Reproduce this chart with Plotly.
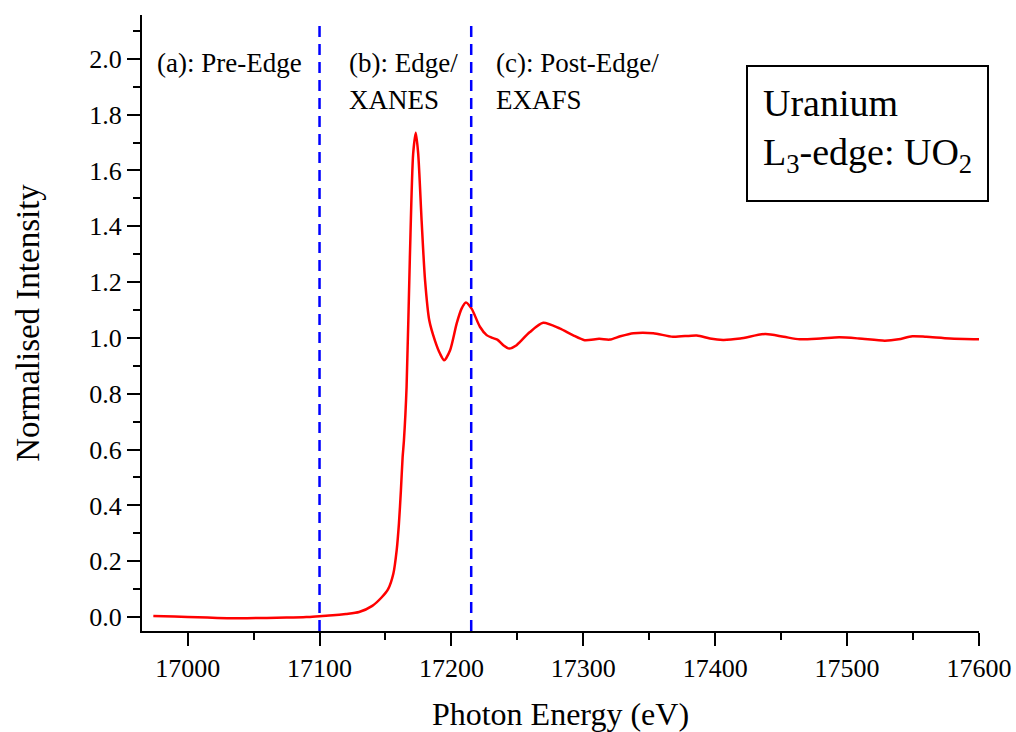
import plotly.graph_objects as go

# Uranium L3-edge XANES/EXAFS spectrum of UO2 (normalised)
energy_ev = [16974, 16990, 17000, 17015, 17030, 17045, 17060, 17075, 17090, 17100,
             17110, 17120, 17130, 17140, 17147, 17152, 17156, 17158.5, 17160.2, 17161.7,
             17163, 17164, 17166, 17168.5, 17171, 17173, 17174.8, 17177.4, 17180, 17183.2,
             17187.5, 17191.3, 17194.5, 17199, 17204, 17207.7, 17211, 17215.3, 17221.6, 17226.7,
             17230.5, 17234.8, 17239.3, 17243.8, 17249.4, 17252, 17259.5, 17269.6, 17282, 17292,
             17301, 17312, 17320, 17328, 17338, 17353, 17368, 17386, 17396, 17406,
             17419, 17438, 17452, 17464, 17480, 17494, 17509, 17528.6, 17539, 17549.4,
             17560, 17578, 17600]
intensity = [0.004, 0.002, 0.0, -0.002, -0.004, -0.004, -0.003, -0.002, 0.0, 0.003,
             0.006, 0.011, 0.018, 0.04, 0.07, 0.10, 0.156, 0.24, 0.335, 0.454,
             0.573, 0.633, 0.824, 1.29, 1.66, 1.735, 1.66, 1.42, 1.207, 1.063,
             0.99, 0.944, 0.92, 0.956, 1.052, 1.105, 1.127, 1.105, 1.04, 1.01,
             1.001, 0.994, 0.974, 0.962, 0.974, 0.986, 1.021, 1.054, 1.034, 1.01,
             0.992, 0.997, 0.994, 1.006, 1.017, 1.017, 1.004, 1.009, 0.998, 0.993,
             0.998, 1.014, 1.004, 0.995, 0.998, 1.002, 0.998, 0.99, 0.995, 1.006,
             1.004, 0.998, 0.995]

# Region boundaries (eV) and region labels
region_bounds = [17100, 17215]
region_labels = [
    (16975, "(a): Pre-Edge", None),
    (17121, "(b): Edge/", "XANES"),
    (17232, "(c): Post-Edge/", "EXAFS"),
]

FONT = "Liberation Serif"

fig = go.Figure()
fig.add_trace(go.Scatter(
    x=energy_ev, y=intensity, mode="lines",
    line=dict(color="#ff0000", width=2.5, shape="spline", smoothing=0.7),
    showlegend=False, hoverinfo="skip",
))

for xb in region_bounds:
    fig.add_shape(type="line", xref="x", yref="y", x0=xb, x1=xb, y0=-0.05, y1=2.14,
                  line=dict(color="#0000ff", width=2.5, dash="11px,7px"))

for x0, line1, line2 in region_labels:
    fig.add_annotation(x=x0, y=1.985, xref="x", yref="y", text=line1, showarrow=False,
                       xanchor="left", yanchor="middle",
                       font=dict(family=FONT, size=27, color="black"))
    if line2:
        fig.add_annotation(x=x0, y=1.852, xref="x", yref="y", text=line2, showarrow=False,
                           xanchor="left", yanchor="middle",
                           font=dict(family=FONT, size=27, color="black"))

# Sample box
fig.add_shape(type="rect", xref="paper", yref="paper",
              x0=(747 - 142) / 837, x1=(988 - 142) / 837,
              y0=(630.7 - 201) / 615.7, y1=(630.7 - 66) / 615.7,
              line=dict(color="black", width=2), fillcolor="white", layer="below")
fig.add_annotation(x=(761 - 142) / 837, y=(630.7 - 103) / 615.7, xref="paper", yref="paper",
                   text="Uranium", showarrow=False, xanchor="left", yanchor="middle",
                   font=dict(family=FONT, size=38, color="black"))
fig.add_annotation(x=(761 - 142) / 837, y=(630.7 - 155) / 615.7, xref="paper", yref="paper",
                   text="L<sub>3</sub>-edge: UO<sub>2</sub>", showarrow=False,
                   xanchor="left", yanchor="middle",
                   font=dict(family=FONT, size=38, color="black"))

fig.update_layout(
    width=1016, height=732,
    margin=dict(l=142, r=37, t=15, b=101.3, autoexpand=False),
    paper_bgcolor="white", plot_bgcolor="white",
    font=dict(family=FONT, color="black"),
    showlegend=False,
)

fig.update_xaxes(
    range=[16965.4, 17600], dtick=100, tick0=17000, tickformat="d", automargin=False,
    showgrid=False, zeroline=False, showline=True, linecolor="black", linewidth=2,
    ticks="outside", ticklen=13, tickwidth=2, tickcolor="black",
    tickfont=dict(family=FONT, size=26, color="black"),
    minor=dict(dtick=50, tick0=17000, ticks="outside", ticklen=7, tickwidth=2,
               tickcolor="black", showgrid=False),
    title=dict(text="Photon Energy (eV)", font=dict(family=FONT, size=32, color="black"),
               standoff=22),
)
fig.update_yaxes(
    range=[-0.05, 2.157], dtick=0.2, tick0=0, tickformat=".1f", automargin=False,
    showgrid=False, zeroline=False, showline=True, linecolor="black", linewidth=2,
    ticks="outside", ticklen=13, tickwidth=2, tickcolor="black",
    tickfont=dict(family=FONT, size=26, color="black"),
    minor=dict(dtick=0.1, tick0=0, ticks="outside", ticklen=7, tickwidth=2,
               tickcolor="black", showgrid=False),
    title=dict(text="Normalised Intensity", font=dict(family=FONT, size=33, color="black"),
               standoff=40),
)

fig.write_html("out.html")
